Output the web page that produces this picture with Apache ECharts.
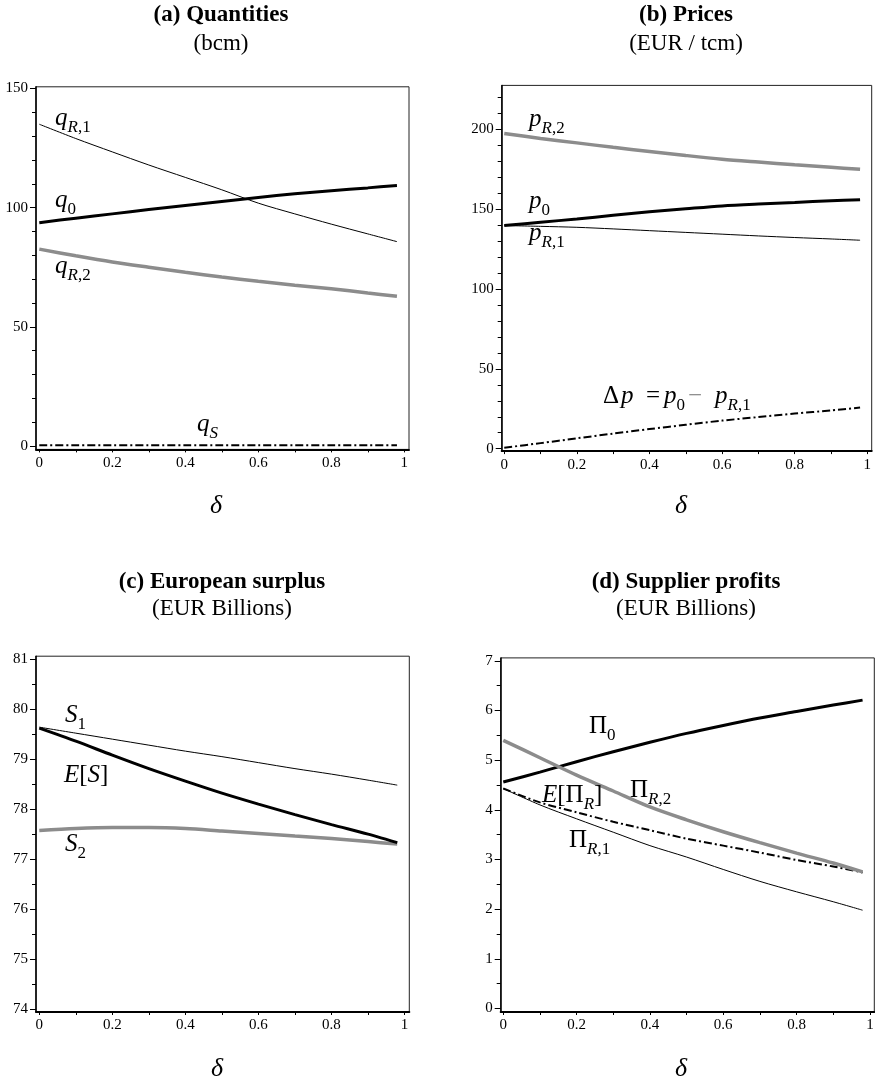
<!DOCTYPE html>
<html><head><meta charset="utf-8">
<script src="https://cdn.jsdelivr.net/npm/echarts@6/dist/echarts.min.js"></script>
<style>html,body{margin:0;padding:0;background:#fff}#c{width:875px;height:1079px}</style>
</head><body><div id="c"></div>
<script>
// ---------------- data ----------------
const delta = [0, 0.1, 0.2, 0.3, 0.4, 0.5, 0.6, 0.7, 0.8, 0.9, 0.98];
// (a) Quantities (bcm)
const qR1 = [135.0, 129.0, 123.4, 117.9, 112.7, 107.5, 101.9, 97.4, 93.1, 89.0, 85.75];
const q0  = [93.7, 95.6, 97.4, 99.2, 100.9, 102.6, 104.3, 105.8, 107.1, 108.3, 109.3];
const qR2 = [82.6, 79.8, 77.2, 75.0, 72.9, 70.9, 69.1, 67.5, 66.0, 64.2, 62.8];
const qS  = [0.3, 0.3, 0.3, 0.3, 0.3, 0.3, 0.3, 0.3, 0.3, 0.3, 0.3];
// (b) Prices (EUR / tcm)
const pR2 = [197.4, 194.4, 191.6, 188.8, 186.2, 183.7, 181.4, 179.6, 177.9, 176.3, 175.0];
const p0  = [139.8, 141.9, 143.9, 146.2, 148.4, 150.3, 152.1, 153.3, 154.3, 155.3, 156.0];
const pR1 = [139.8, 139.3, 138.7, 137.7, 136.6, 135.5, 134.4, 133.3, 132.3, 131.4, 130.6];
const dP  = [0.6, 3.5, 6.5, 9.5, 12.3, 15.0, 17.6, 19.8, 22.0, 24.0, 25.8];
// (c) European surplus (EUR Billions)
const S1 = [79.64, 79.52, 79.40, 79.28, 79.16, 79.05, 78.93, 78.81, 78.70, 78.58, 78.48];
const ES = [79.62, 79.36, 79.08, 78.81, 78.56, 78.32, 78.10, 77.89, 77.69, 77.50, 77.33];
const S2 = [77.57, 77.61, 77.63, 77.63, 77.61, 77.56, 77.51, 77.46, 77.41, 77.35, 77.30];
// (d) Supplier profits (EUR Billions)
const Pi0  = [4.56, 4.76, 4.97, 5.17, 5.36, 5.54, 5.70, 5.85, 5.98, 6.11, 6.21];
const PiR2 = [5.40, 5.05, 4.70, 4.38, 4.06, 3.80, 3.56, 3.34, 3.13, 2.93, 2.75];
const EPiR = [4.43, 4.15, 3.95, 3.76, 3.59, 3.42, 3.28, 3.14, 2.99, 2.86, 2.74];
const PiR1 = [4.43, 4.10, 3.82, 3.55, 3.28, 3.05, 2.80, 2.56, 2.35, 2.15, 1.98];

// ticks
const xTicks  = [0, 0.1, 0.2, 0.3, 0.4, 0.5, 0.6, 0.7, 0.8, 0.9, 1];
const xLabels = [0, 0.2, 0.4, 0.6, 0.8, 1];
const aYMajor = [0, 50, 100, 150];
const aYMinor = [10, 20, 30, 40, 60, 70, 80, 90, 110, 120, 130, 140];
const bYMajor = [0, 50, 100, 150, 200];
const bYMinor = [10, 20, 30, 40, 60, 70, 80, 90, 110, 120, 130, 140, 160, 170, 180, 190, 210, 220];
const cYMajor = [74, 75, 76, 77, 78, 79, 80, 81];
const cYMinor = [74.5, 75.5, 76.5, 77.5, 78.5, 79.5, 80.5];
const dYMajor = [0, 1, 2, 3, 4, 5, 6, 7];
const dYMinor = [0.5, 1.5, 2.5, 3.5, 4.5, 5.5, 6.5];

const titles = [
  ['(a) Quantities', '(bcm)'],
  ['(b) Prices', '(EUR / tcm)'],
  ['(c) European surplus', '(EUR Billions)'],
  ['(d) Supplier profits', '(EUR Billions)']
];

// ---------------- layout ----------------
const FONT = '"Liberation Serif", "Times New Roman", serif';
const GRAY = '#8c8c8c';
const panels = [
  {left: 36,    top: 86.8,  width: 373,   height: 362.6, xmin: -0.009, xmax: 1.013, ymin: -1.4,  ymax: 150.7, maj: aYMajor, min: aYMinor, cx: 221, ty: 15,  sy: 44,  dy: 506},
  {left: 501.7, top: 85.4,  width: 370,   height: 365.7, xmin: -0.007, xmax: 1.012, ymin: -1.5,  ymax: 227.6, maj: bYMajor, min: bYMinor, cx: 686, ty: 15,  sy: 44,  dy: 506},
  {left: 36,    top: 656.2, width: 373.3, height: 355.8, xmin: -0.009, xmax: 1.013, ymin: 73.94, ymax: 81.06, maj: cYMajor, min: cYMinor, cx: 222, ty: 582, sy: 609, dy: 1069},
  {left: 500.7, top: 657.9, width: 373.6, height: 354.1, xmin: -0.007, xmax: 1.012, ymin: -0.07, ymax: 7.06,  maj: dYMajor, min: dYMinor, cx: 686, ty: 582, sy: 609, dy: 1069}
];

const grids = [], xAxes = [], yAxes = [];
panels.forEach((p, i) => {
  grids.push({left: p.left, top: p.top, width: p.width, height: p.height, show: true,
    borderColor: '#222', borderWidth: 1, backgroundColor: 'transparent',
    containLabel: false, outerBoundsMode: 'none'});
  xAxes.push({type: 'value', gridIndex: i, min: p.xmin, max: p.xmax, position: 'bottom',
    axisLine: {show: true, onZero: false, lineStyle: {color: '#000', width: 2}},
    axisTick: {show: true, inside: false, length: 3, customValues: xTicks, lineStyle: {color: '#000', width: 1}},
    axisLabel: {show: true, customValues: xLabels, margin: 6, color: '#000', fontSize: 15, fontFamily: FONT,
      formatter: v => String(Math.round(v * 10) / 10)},
    splitLine: {show: false}});
  yAxes.push({type: 'value', gridIndex: i, min: p.ymin, max: p.ymax, position: 'left',
    axisLine: {show: true, onZero: false, lineStyle: {color: '#000', width: 1.5}},
    axisTick: {show: true, inside: false, length: 6, customValues: p.maj, lineStyle: {color: '#000', width: 1}},
    axisLabel: {show: true, customValues: p.maj, margin: 8, color: '#000', fontSize: 15, fontFamily: FONT},
    splitLine: {show: false}});
  yAxes.push({type: 'value', gridIndex: i, min: p.ymin, max: p.ymax, position: 'left',
    axisLine: {show: false, onZero: false},
    axisTick: {show: true, inside: false, length: 4, customValues: p.min, lineStyle: {color: '#000', width: 1}},
    axisLabel: {show: false}, splitLine: {show: false}});
});

function line(xi, ys, color, width, dash, z) {
  return {type: 'line', xAxisIndex: xi, yAxisIndex: xi * 2, data: delta.map((d, i) => [d, ys[i]]),
    symbol: 'none', showSymbol: false, smooth: 0.3, silent: true, z: z || 2,
    lineStyle: {color: color, width: width, type: dash || 'solid'}};
}
const DASHDOT = [8, 3, 2, 3];
const series = [
  line(0, qR1, '#000', 1),
  line(0, q0, '#000', 3),
  line(0, qR2, GRAY, 3.5),
  line(0, qS, '#000', 2, DASHDOT),
  line(1, pR1, '#000', 1),
  line(1, p0, '#000', 3),
  line(1, pR2, GRAY, 3.5),
  line(1, dP, '#000', 2, DASHDOT),
  line(2, S1, '#000', 1),
  line(2, S2, GRAY, 3.5),
  line(2, ES, '#000', 3, null, 3),
  line(3, PiR1, '#000', 1),
  line(3, EPiR, '#000', 2, DASHDOT),
  line(3, Pi0, '#000', 3),
  line(3, PiR2, GRAY, 3.5, null, 3)
];

// ---------------- text ----------------
const mctx = document.createElement('canvas').getContext('2d');
function tw(t, size, it) {
  mctx.font = (it ? 'italic ' : '') + size + 'px ' + FONT;
  return mctx.measureText(t).width;
}
function txt(x, baseline, t, size, it, color, weight, align) {
  return {type: 'text', x: x, y: baseline - 0.34 * size, silent: true, z: 10,
    style: {text: t, fontSize: size, fontFamily: FONT, fontStyle: it ? 'italic' : 'normal',
      fontWeight: weight || 'normal', fill: color || '#000', align: align || 'left', verticalAlign: 'middle'}};
}
const M = 25, SB = 17;
// seg: [text, size, italic, baselineShift, color]
function math(x, baseline, segs) {
  const out = []; let cx = x;
  segs.forEach(s => {
    out.push(txt(cx, baseline + (s[3] || 0), s[0], s[1], s[2], s[4]));
    cx += tw(s[0], s[1], s[2]);
  });
  return out;
}
const sub = (t, it) => [t, SB, it, 6];

const graphics = [];
panels.forEach((p, i) => {
  graphics.push({type: 'text', x: p.cx, y: p.ty, silent: true,
    style: {text: titles[i][0], fontSize: 23, fontWeight: 'bold', fontFamily: FONT, fill: '#000', align: 'center', verticalAlign: 'middle'}});
  graphics.push({type: 'text', x: p.cx, y: p.sy, silent: true,
    style: {text: titles[i][1], fontSize: 23, fontFamily: FONT, fill: '#000', align: 'center', verticalAlign: 'middle'}});
  graphics.push({type: 'text', x: p.cx - 5, y: p.dy, silent: true,
    style: {text: 'δ', fontSize: 26, fontStyle: 'italic', fontFamily: FONT, fill: '#000', align: 'center', verticalAlign: 'middle'}});
});
// (a)
graphics.push(...math(55, 127, [['q', M, true], sub('R', true), sub(',1')]));
graphics.push(...math(55, 209, [['q', M, true], sub('0')]));
graphics.push(...math(55, 275, [['q', M, true], sub('R', true), sub(',2')]));
graphics.push(...math(197, 433, [['q', M, true], sub('S', true)]));
// (b)
graphics.push(...math(529, 128, [['p', M, true], sub('R', true), sub(',2')]));
graphics.push(...math(529, 210, [['p', M, true], sub('0')]));
graphics.push(...math(529, 242, [['p', M, true], sub('R', true), sub(',1')]));
graphics.push(txt(603, 405, 'Δ', M, false));
graphics.push(txt(621, 405, 'p', M, true));
graphics.push(txt(646, 405, '=', M, false));
graphics.push(...math(664, 405, [['p', M, true], sub('0')]));
graphics.push(txt(688, 405, '−', M, false, GRAY));
graphics.push(...math(715, 405, [['p', M, true], sub('R', true), sub(',1')]));
// (c)
graphics.push(...math(65, 724, [['S', M, true], sub('1')]));
graphics.push(...math(64, 784, [['E', M, true], ['[', M, false], ['S', M, true], [']', M, false]]));
graphics.push(...math(65, 853, [['S', M, true], sub('2')]));
// (d)
graphics.push(...math(589, 735, [['Π', M, false], sub('0')]));
graphics.push(...math(630, 799, [['Π', M, false], sub('R', true), sub(',2')]));
graphics.push(...math(542, 804, [['E', M, true], ['[', M, false], ['Π', M, false], sub('R', true), [']', M, false]]));
graphics.push(...math(569, 849, [['Π', M, false], sub('R', true), sub(',1')]));

const chart = echarts.init(document.getElementById('c'), null, {renderer: 'canvas'});
chart.setOption({
  animation: false,
  backgroundColor: '#fff',
  grid: grids, xAxis: xAxes, yAxis: yAxes, series: series,
  graphic: graphics
});
</script></body></html>
